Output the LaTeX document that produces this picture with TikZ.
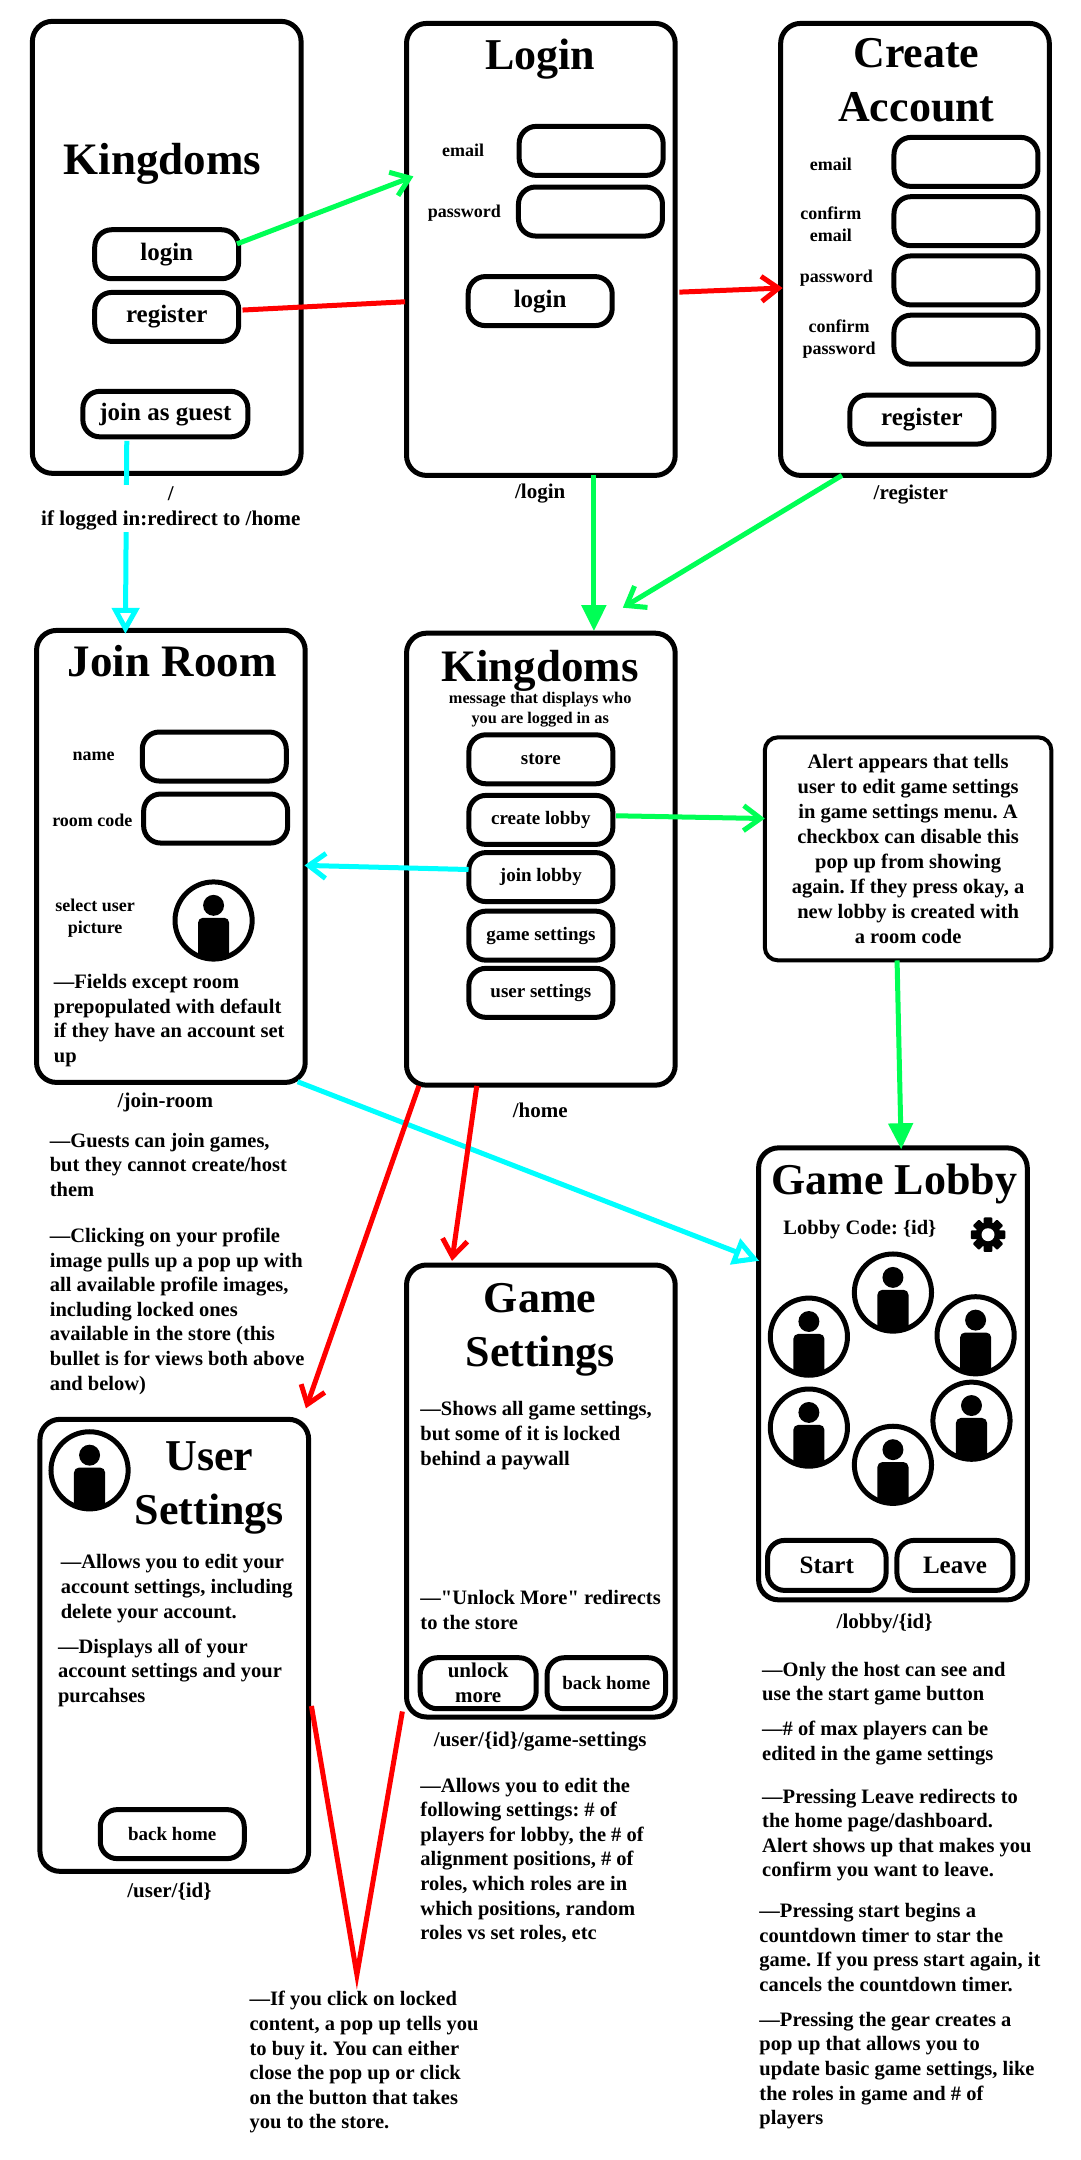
\documentclass[tikz,border=0pt]{standalone}
\usepackage{fontspec}
\setmainfont{Liberation Serif}[Ligatures=TeXOff]
\usetikzlibrary{arrows.meta}
\AtBeginDocument{\frenchspacing}

\definecolor{flowgreen}{HTML}{00FF55}
\definecolor{flowred}{HTML}{FF0000}
\definecolor{flowcyan}{HTML}{00FFFF}

\tikzset{
    screenbox/.style={draw, line width=5pt, rounded corners=20pt, inner sep=0pt, minimum width=268.7pt, minimum height=452pt},
    alertbox/.style={draw, line width=4pt, rounded corners=13pt, inner sep=0pt, align=center, minimum width=286.6pt, minimum height=223pt, font=\fontsize{20.5}{25}\selectfont\bfseries},
    btn/.style={draw, line width=5pt, rounded corners=17pt, inner sep=0pt, align=center, minimum width=144pt, minimum height=49pt, font=\fontsize{25}{25}\selectfont\bfseries},
    smallbtn/.style={btn, font=\fontsize{19}{24}\selectfont\bfseries},
    title/.style={inner sep=0pt, align=center, font=\fontsize{45}{54}\selectfont\bfseries},
    lbl/.style={inner sep=0pt, align=center, font=\fontsize{18}{22}\selectfont\bfseries},
    route/.style={inner sep=0pt, align=center, font=\fontsize{21}{25}\selectfont\bfseries},
    note/.style={inner sep=0pt, anchor=north west, align=left, font=\fontsize{20.5}{24.6}\selectfont\bfseries},
    barb/.style={-{Straight Barb[length=17pt,width=25pt,line width=5pt]}, line width=5pt},
    tri/.style={-{Triangle[length=26pt,width=24pt]}, line width=5pt},
    triopen/.style={-{Triangle[open,length=26pt,width=27pt,line width=5pt]}, line width=5pt},
    avatar/.pic={
        \draw[line width=5pt] (0,0) circle[radius=28];
        \begin{scope}
            \clip (0,0) circle[radius=28];
            \fill (0,-11) circle[radius=7.6];
            \fill[rounded corners=5pt] (-11.3,-2) rectangle (11.3,30);
        \end{scope}
    },
    gear/.pic={
        \foreach \a in {0,45,...,315}
            \fill[rotate=\a, rounded corners=1pt] (-3.2,-12.5) rectangle (3.2,0);
        \fill (0,0) circle[radius=9];
        \fill[white] (0,0) circle[radius=4.7];
    },
}

\begin{document}
\begin{tikzpicture}[x=1.378pt, y=-1.378pt]
    \useasboundingbox (0,0) rectangle (783.75,1567.5);

    % screens
    \node[screenbox] (mainscreen) at (121,179.5) {};
    \node[screenbox] (loginscreen) at (392.5,181) {};
    \node[screenbox] (registerscreen) at (664,181) {};
    \node[screenbox] (joinscreen) at (124,621.5) {};
    \node[screenbox] (homescreen) at (392.5,623.5) {};
    \node[screenbox] (lobbyscreen) at (648,997) {};
    \node[screenbox] (gamescreen) at (392.5,1082) {};
    \node[screenbox] (userscreen) at (126.5,1194) {};
    \node[alertbox] (alert) at (659,616) {Alert appears that tells\\user to edit game settings\\in game settings menu. A\\checkbox can disable this\\pop up from showing\\again. If they press okay, a\\new lobby is created with\\a room code};

    % titles
    \node[title] (maintitle) at (118,119) {Kingdoms};
    \node[title, font=\fontsize{44}{54}\selectfont\bfseries] (logintitle) at (392,43) {Login};
    \node[title, font=\fontsize{44}{54}\selectfont\bfseries] (registertitle) at (665,58) {Create\\Account};
    \node[title] (hometitle) at (392,487) {Kingdoms};
    \node[title] (jointitle) at (125,480) {Join Room};
    \node[title, font=\fontsize{44}{54}\selectfont\bfseries] (gametitle) at (392,965) {Game\\Settings};
    \node[title, font=\fontsize{44}{54}\selectfont\bfseries] (usertitle) at (152,1080) {User\\Settings};
    \node[title, font=\fontsize{44}{54}\selectfont\bfseries] (lobbytitle) at (649,859) {Game Lobby};

    % buttons
    \node[btn] (mainlogin) at (121,184.5) {login};
    \node[btn] (mainregister) at (121,230) {register};
    \node[btn, minimum width=165pt, minimum height=45.5pt] (guest) at (120,300.5) {join as guest};
    \node[btn] (loginemail) at (429,109.5) {};
    \node[btn] (loginpass) at (428.5,153.5) {};
    \node[btn] (loginbtn) at (392,218.5) {login};
    \node[btn] (regemail) at (701,117.5) {};
    \node[btn] (regconfirm) at (701,160.5) {};
    \node[btn] (regpass) at (701,203.5) {};
    \node[btn] (regconfirmpass) at (701,246.5) {};
    \node[btn] (regbtn) at (669,304.5) {register};
    \node[btn] (joinname) at (155.5,549) {};
    \node[btn] (joincode) at (156.5,594) {};
    \node[smallbtn] (store) at (392.5,551) {store};
    \node[smallbtn] (createlobby) at (392.5,595) {create lobby};
    \node[smallbtn] (joinlobby) at (392.5,636.5) {join lobby};
    \node[smallbtn] (gamesettings) at (392.5,679) {game settings};
    \node[smallbtn] (usersettings) at (392.5,720.5) {user settings};
    \node[smallbtn] (userback) at (125,1331) {back home};
    \node[btn, font=\fontsize{21}{25}\selectfont\bfseries, minimum width=116pt, minimum height=51pt] (unlock) at (347,1221.5) {unlock\\more};
    \node[smallbtn, minimum width=118.5pt, minimum height=51pt] (gameback) at (440,1221.5) {back home};
    \node[btn, minimum width=118.5pt, minimum height=50pt] (start) at (600,1136) {Start};
    \node[btn, minimum width=116pt, minimum height=50pt] (leave) at (693,1136) {Leave};

    % field labels
    \node[lbl] (lblemail) at (336,109) {email};
    \node[lbl] (lblpass) at (337,155) {password};
    \node[lbl] (lblregemail) at (603,119) {email};
    \node[lbl] (lblregconfirm) at (603,163) {confirm\\email};
    \node[lbl] (lblregpass) at (607,202) {password};
    \node[lbl] (lblregconfirmpass) at (609,246) {confirm\\password};
    \node[lbl] (lblname) at (68,549) {name};
    \node[lbl] (lblcode) at (67,595) {room code};
    \node[lbl] (lblpicture) at (69,666) {select user\\picture};
    \node[lbl, font=\fontsize{16.3}{20}\selectfont\bfseries] (lblmessage) at (392,515) {message that displays who\\you are logged in as};
    \node[lbl, font=\fontsize{20.5}{25}\selectfont\bfseries] (lblcodeid) at (624,892) {Lobby Code: \{id\}};

    % avatars and gear
    \pic at (155,668) {avatar};
    \pic at (65,1067) {avatar};
    \pic at (648,938) {avatar};
    \pic at (587,970) {avatar};
    \pic at (708,969) {avatar};
    \pic at (587,1036) {avatar};
    \pic at (705,1031) {avatar};
    \pic at (648,1063) {avatar};
    \pic at (717,896) {gear};

    % free ends of connectors
    \coordinate (c1a) at (172,177);
    \coordinate (c1b) at (300,128);
    \coordinate (c2a) at (176,225);
    \coordinate (c2b) at (294,219);
    \coordinate (c3a) at (493,212);
    \coordinate (c3b) at (568,209);
    \coordinate (c4a) at (92,320);
    \coordinate (c4b) at (91,460);
    \coordinate (c5a) at (431,345);
    \coordinate (c5b) at (431,458);
    \coordinate (c6a) at (611,345);
    \coordinate (c6b) at (452,441);
    \coordinate (c7a) at (340,631);
    \coordinate (c7b) at (221,628);
    \coordinate (c8a) at (447,592);
    \coordinate (c8b) at (555,594);
    \coordinate (c9a) at (651,697);
    \coordinate (c9b) at (654,834);
    \coordinate (c10a) at (216,785);
    \coordinate (c10b) at (551,915);
    \coordinate (c11a) at (304,788);
    \coordinate (c11b) at (222,1022);
    \coordinate (c12a) at (346,788);
    \coordinate (c12b) at (328,915);
    \coordinate (c13a) at (226,1238);
    \coordinate (c13b) at (259,1433);
    \coordinate (c13c) at (292,1242);

    % connectors
    \draw[barb, flowgreen] (c1a) -- (c1b);
    \draw[line width=5pt, flowred] (c2a) -- (c2b);
    \draw[barb, flowred] (c3a) -- (c3b);
    \draw[triopen, flowcyan] (c4a) -- (c4b);
    \draw[tri, flowgreen] (c5a) -- (c5b);
    \draw[barb, flowgreen] (c6a) -- (c6b);
    \draw[barb, flowcyan] (c7a) -- (c7b);
    \draw[barb, flowgreen] (c8a) -- (c8b);
    \draw[tri, flowgreen] (c9a) -- (c9b);
    \draw[triopen, flowcyan] (c10a) -- (c10b);
    \draw[barb, flowred] (c11a) -- (c11b);
    \draw[barb, flowred] (c12a) -- (c12b);
    \draw[line width=5pt, flowred] (c13a) -- (c13b) -- (c13c);

    % routes
    \node[route, fill=white, inner ysep=2pt] (routemain) at (124,369) {/\\if logged in:redirect to /home};
    \node[route] (routelogin) at (392,358) {/login};
    \node[route] (routeregister) at (661,359) {/register};
    \node[route] (routejoin) at (120,800) {/join-room};
    \node[route] (routehome) at (392,806) {/home};
    \node[route] (routeuser) at (123,1373) {/user/\{id\}};
    \node[route] (routegame) at (392,1264) {/user/\{id\}/game-settings};
    \node[route] (routelobby) at (642,1178) {/lobby/\{id\}};

    % notes
    \node[note] (notefields) at (39,707) {—Fields except room\\prepopulated with default\\if they have an account set\\up};
    \node[note] (noteguests) at (36,822) {—Guests can join games,\\but they cannot create/host\\them};
    \node[note] (noteprofile) at (36,891) {—Clicking on your profile\\image pulls up a pop up with\\all available profile images,\\including locked ones\\available in the store (this\\bullet is for views both above\\and below)};
    \node[note] (noteedit) at (44,1128) {—Allows you to edit your\\account settings, including\\delete your account.};
    \node[note] (notedisplay) at (42,1189) {—Displays all of your\\account settings and your\\purcahses};
    \node[note] (noteshows) at (305,1017) {—Shows all game settings,\\but some of it is locked\\behind a paywall};
    \node[note] (noteunlock) at (305,1154) {—"Unlock More" redirects\\to the store};
    \node[note] (notesettings) at (305,1290) {—Allows you to edit the\\following settings: \# of\\players for lobby, the \# of\\alignment positions, \# of\\roles, which roles are in\\which positions, random\\roles vs set roles, etc};
    \node[note] (notelocked) at (181,1445) {—If you click on locked\\content, a pop up tells you\\to buy it. You can either\\close the pop up or click\\on the button that takes\\you to the store.};
    \node[note] (notehost) at (553,1206) {—Only the host can see and\\use the start game button};
    \node[note] (notemax) at (553,1249) {—\# of max players can be\\edited in the game settings};
    \node[note] (noteleave) at (553,1298) {—Pressing Leave redirects to\\the home page/dashboard.\\Alert shows up that makes you\\confirm you want to leave.};
    \node[note] (notestart) at (551,1381) {—Pressing start begins a\\countdown timer to star the\\game. If you press start again, it\\cancels the countdown timer.};
    \node[note] (notegear) at (551,1460) {—Pressing the gear creates a\\pop up that allows you to\\update basic game settings, like\\the roles in game and \# of\\players};
\end{tikzpicture}
\end{document}
